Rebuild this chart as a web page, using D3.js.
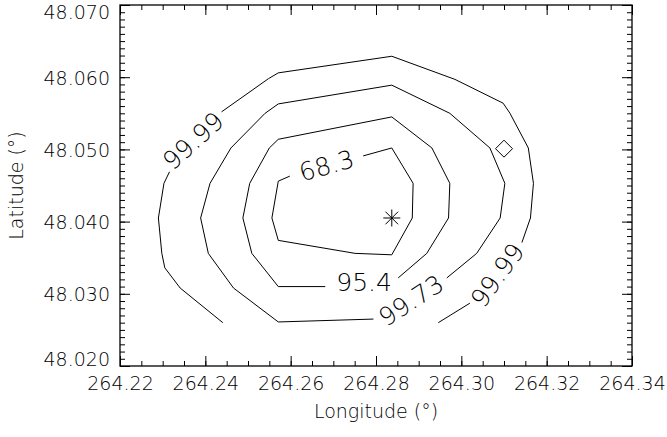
<!DOCTYPE html>
<html><head><meta charset="utf-8">
<script src="https://cdn.jsdelivr.net/npm/d3@7"></script>
<style>
html,body{margin:0;padding:0;background:#fff;}
svg{display:block;}
text{font-family:"DejaVu Sans",sans-serif;fill:#000;font-weight:200;}
</style></head><body>
<svg id="chart" width="667" height="437"></svg>
<script>
// ---- data ----
const xDomain = [264.22, 264.34];
const yDomain = [48.02, 48.07];
const xTicks = [264.22, 264.24, 264.26, 264.28, 264.30, 264.32, 264.34];
const xTickLabels = ["264.22", "264.24", "264.26", "264.28", "264.30", "264.32", "264.34"];
const yTicks = [48.02, 48.03, 48.04, 48.05, 48.06, 48.07];
const yTickLabels = ["48.020", "48.030", "48.040", "48.050", "48.060", "48.070"];
const xTitle = "Longitude (°)";
const yTitle = "Latitude (°)";

// contour polylines (lon, lat), split where labels interrupt them
const contour68 = [
  [[264.2770, 48.0491], [264.2837, 48.0502], [264.2887, 48.0453], [264.2885, 48.0405], [264.2837, 48.0354],
   [264.2751, 48.0356], [264.2571, 48.0374], [264.2556, 48.0405], [264.2571, 48.0456], [264.2598, 48.0463]]
];
const contour954 = [
  [[264.2852, 48.0322], [264.2919, 48.0356], [264.2970, 48.0405], [264.2973, 48.0453], [264.2931, 48.0502],
   [264.2837, 48.0545], [264.2571, 48.0514], [264.2550, 48.0502], [264.2504, 48.0453], [264.2488, 48.0405],
   [264.2509, 48.0356], [264.2571, 48.0310], [264.2681, 48.0310]]
];
const contour9973 = [
  [[264.2966, 48.0322], [264.3036, 48.0356], [264.3091, 48.0405], [264.3102, 48.0453], [264.3067, 48.0502],
   [264.2973, 48.0550], [264.2837, 48.0589], [264.2571, 48.0563], [264.2540, 48.0550], [264.2460, 48.0502],
   [264.2411, 48.0453], [264.2389, 48.0405], [264.2407, 48.0356], [264.2466, 48.0308], [264.2571, 48.0261],
   [264.2794, 48.0265]]
];
const contour9999 = [
  [[264.2441, 48.0260], [264.2341, 48.0308], [264.2305, 48.0336], [264.2298, 48.0356], [264.2290, 48.0405],
   [264.2303, 48.0453], [264.2316, 48.0469]],
  [[264.2438, 48.0552], [264.2548, 48.0598], [264.2571, 48.0606], [264.2837, 48.0629], [264.2985, 48.0597],
   [264.3098, 48.0564], [264.3114, 48.0550], [264.3157, 48.0502], [264.3169, 48.0453], [264.3162, 48.0405],
   [264.3142, 48.0371]],
  [[264.3020, 48.0287], [264.2946, 48.0260]]
];
const contourLines = [contour68, contour954, contour9973, contour9999];

const labelTexts = ["99.99", "68.3", "95.4", "99.73", "99.99"];
const labelLon = [264.2371, 264.2684, 264.2772, 264.2882, 264.3084];
const labelLat = [48.0512, 48.0478, 48.0317, 48.0291, 48.0326];
const labelAngle = [-42, -15.6, 0, -33, -54];

const starPoint = [264.2837, 48.0405];
const diamondPoint = [264.3100, 48.0501];

(function () {
// ---- layout ----
const svg = d3.select("#chart");
const mL = 120, mR = 632, mT = 5, mB = 366;
const x = d3.scaleLinear().domain(xDomain).range([mL, mR]);
const y = d3.scaleLinear().domain(yDomain).range([mB, mT]);

const xMinor = d3.range(264.22, 264.3401, 0.005).map(v => +v.toFixed(3));
const yMinor = d3.range(48.02, 48.0701, 0.001).map(v => +v.toFixed(3));

// minor ticks
svg.append("g").attr("transform", `translate(0,${mB})`)
  .call(d3.axisBottom(x).tickValues(xMinor).tickSizeInner(-5).tickSizeOuter(0).tickFormat(""));
svg.append("g").attr("transform", `translate(0,${mT})`)
  .call(d3.axisTop(x).tickValues(xMinor).tickSizeInner(-5).tickSizeOuter(0).tickFormat(""));
svg.append("g").attr("transform", `translate(${mL},0)`)
  .call(d3.axisLeft(y).tickValues(yMinor).tickSizeInner(-5).tickSizeOuter(0).tickFormat(""));
svg.append("g").attr("transform", `translate(${mR},0)`)
  .call(d3.axisRight(y).tickValues(yMinor).tickSizeInner(-5).tickSizeOuter(0).tickFormat(""));

// major ticks
svg.append("g").attr("transform", `translate(0,${mB})`)
  .call(d3.axisBottom(x).tickValues(xTicks).tickSizeInner(-10).tickSizeOuter(0).tickPadding(11)
    .tickFormat((d, i) => xTickLabels[i]));
svg.append("g").attr("transform", `translate(0,${mT})`)
  .call(d3.axisTop(x).tickValues(xTicks).tickSizeInner(-10).tickSizeOuter(0).tickFormat(""));
const yl = svg.append("g").attr("transform", `translate(${mL},0)`)
  .call(d3.axisLeft(y).tickValues(yTicks).tickSizeInner(-10).tickSizeOuter(0).tickPadding(10)
    .tickFormat((d, i) => yTickLabels[i]));
svg.append("g").attr("transform", `translate(${mR},0)`)
  .call(d3.axisRight(y).tickValues(yTicks).tickSizeInner(-10).tickSizeOuter(0).tickFormat(""));

svg.selectAll(".domain").remove();
svg.selectAll(".tick line").attr("stroke", "#000").attr("stroke-width", 1);
svg.selectAll(".tick text").style("font-size", "19px").style("font-family", '"DejaVu Sans",sans-serif')
  .style("font-weight", 200).attr("fill", "#000");
// keep end labels inside the axis span
yl.selectAll(".tick text").attr("dy", "0.36em")
  .attr("y", (d, i) => i === 0 ? -7 : (i === yTicks.length - 1 ? 7 : 0));

// frame
svg.append("rect").attr("x", mL).attr("y", mT).attr("width", mR - mL).attr("height", mB - mT)
  .attr("fill", "none").attr("stroke", "#000").attr("stroke-width", 1.3);

// titles
svg.append("text").attr("x", (mL + mR) / 2).attr("y", 418).attr("text-anchor", "middle")
  .style("font-size", "19px").text(xTitle);
svg.append("text").attr("transform", `translate(16,${(mT + mB) / 2}) rotate(-90)`)
  .attr("text-anchor", "middle").attr("dy", "0.36em").style("font-size", "19px").text(yTitle);

// contours
const line = d3.line().x(d => x(d[0])).y(d => y(d[1]));
const cg = svg.append("g");
contourLines.forEach(pieces => {
  pieces.forEach(p => {
    cg.append("path").attr("d", line(p)).attr("fill", "none").attr("stroke", "#000").attr("stroke-width", 1);
  });
});
labelTexts.forEach((t, i) => {
  svg.append("text")
    .attr("transform", `translate(${x(labelLon[i])},${y(labelLat[i])}) rotate(${labelAngle[i]})`)
    .attr("text-anchor", "middle").attr("dy", "0.36em").style("font-size", "25px").text(t);
});

// star marker
const sg = svg.append("g").attr("transform", `translate(${x(starPoint[0])},${y(starPoint[1])})`);
const r1 = 8.5, r2 = 6.3;
[[-r1, 0, r1, 0], [0, -r1, 0, r1], [-r2, -r2, r2, r2], [-r2, r2, r2, -r2]].forEach(s => {
  sg.append("line").attr("x1", s[0]).attr("y1", s[1]).attr("x2", s[2]).attr("y2", s[3])
    .attr("stroke", "#000").attr("stroke-width", 1);
});
// diamond marker
const dr = 8.5;
svg.append("path")
  .attr("transform", `translate(${x(diamondPoint[0])},${y(diamondPoint[1])})`)
  .attr("d", `M0,${-dr}L${dr},0L0,${dr}L${-dr},0Z`)
  .attr("fill", "none").attr("stroke", "#000").attr("stroke-width", 1);
})();
</script>
</body></html>
